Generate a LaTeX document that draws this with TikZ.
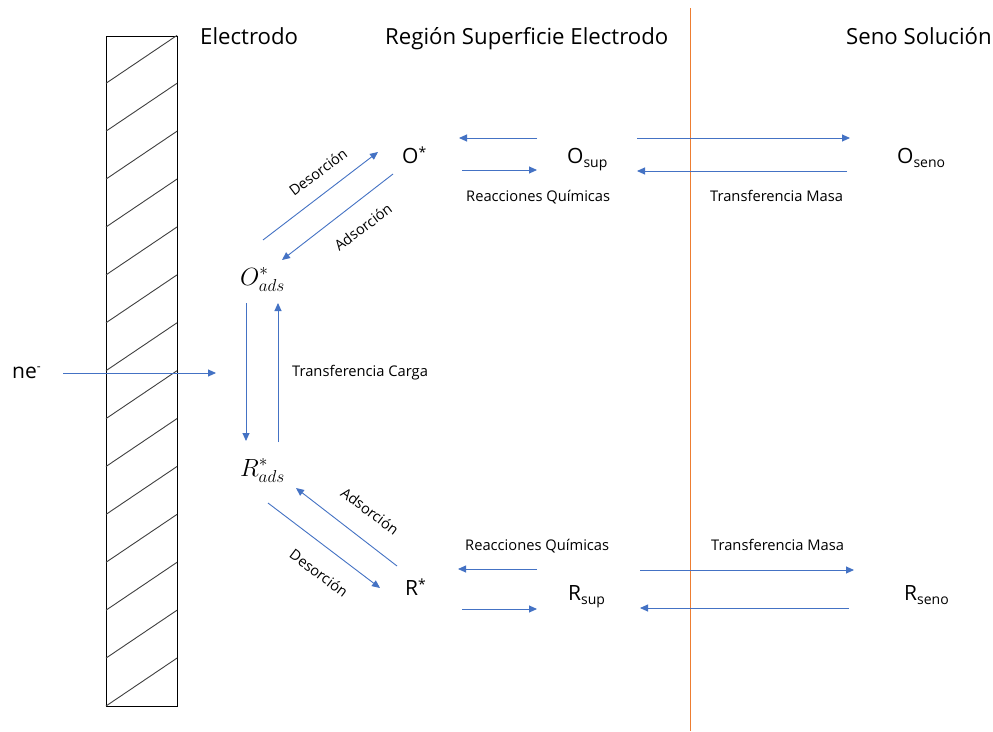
\documentclass[tikz,border=0pt]{standalone}
\usepackage{fontspec}
\setmainfont{Open Sans}
\usetikzlibrary{arrows.meta}
\DeclareMathSizes{25}{25}{19}{15}

\definecolor{flowblue}{HTML}{4472C4}
\definecolor{boundary}{HTML}{ED7D31}

% subscript / superscript pieces for the species labels
\newcommand\sbs[1]{\raisebox{-4.5pt}{\fontsize{14}{14}\selectfont #1}}
\newcommand\sps{\raisebox{6pt}{\fontsize{14}{14}\selectfont *}}

\tikzset{
  flow/.style={draw=flowblue, line width=0.9pt, -{Triangle[length=8pt,width=7pt]}},
  hatch/.style={draw=black!75, line width=0.9pt},
  title/.style={font=\fontsize{22.2}{26}\selectfont, anchor=base west, inner sep=0pt},
  species/.style={font=\fontsize{21}{25}\selectfont, anchor=base west, inner sep=0pt},
  mathsp/.style={font=\fontsize{25}{27}\selectfont, anchor=base west, inner sep=0pt},
  proc/.style={font=\fontsize{14.7}{17}\selectfont, anchor=base west, inner sep=0pt},
  slant/.style={font=\fontsize{14.5}{17}\selectfont, inner sep=0pt},
}

\begin{document}
\begin{tikzpicture}[x=1pt,y=-1pt]
  \fill[white] (0,0) rectangle (993,731);
  \useasboundingbox (0,0) rectangle (993,731);

  % electrode block with hatching
  \draw[line width=0.9pt] (106,36) rectangle (177,706);
  \foreach \k in {0,...,13}
    \draw[hatch] (106,{706-47.9*(13-\k)}) -- (177,{706-47.9*(14-\k)});

  % boundary between surface region and bulk solution
  \draw[boundary, line width=1pt] (690,8) -- (690,731);

  % region titles
  \node[title] (telec) at (200,44) {Electrodo};
  \node[title] (tsurf) at (385,44) {Región Superficie Electrodo};
  \node[title] (tbulk) at (846,44) {Seno Solución};

  % species
  \node[species] (ostar) at (402,163) {O\sps};
  \node[species] (osup)  at (567,163) {O\sbs{sup}};
  \node[species] (oseno) at (897,163) {O\sbs{seno}};
  \node[mathsp]  (oads)  at (240,285) {$O^{*}_{ads}$};
  \node[mathsp]  (rads)  at (240,476) {$R^{*}_{ads}$};
  \node[species] (rstar) at (405,595) {R\sps};
  \node[species] (rsup)  at (568,600) {R\sbs{sup}};
  \node[species] (rseno) at (904,600) {R\sbs{seno}};
  \node[species] (ne)    at (12,378)  {ne\raisebox{8pt}{\fontsize{12}{12}\selectfont -}};

  % process labels
  \node[proc] (rqtop) at (466,201) {Reacciones Químicas};
  \node[proc] (tmtop) at (710,201) {Transferencia Masa};
  \node[proc] (rqbot) at (465,550) {Reacciones Químicas};
  \node[proc] (tmbot) at (711,550) {Transferencia Masa};
  \node[proc] (tcarga) at (292,376) {Transferencia Carga};
  \node[slant, rotate=37]  (desA) at (318,172) {Desorción};
  \node[slant, rotate=37]  (adsA) at (363,227) {Adsorción};
  \node[slant, rotate=-37] (adsB) at (370,511) {Adsorción};
  \node[slant, rotate=-37] (desB) at (319,573) {Desorción};

  % arrow end points
  \coordinate (neS) at (63,373);    \coordinate (neE) at (216,373);
  \coordinate (d1s) at (263,240);   \coordinate (d1e) at (378,152);
  \coordinate (a1s) at (393,174);   \coordinate (a1e) at (282,260);
  \coordinate (cds) at (246,303);   \coordinate (cde) at (246,441);
  \coordinate (cus) at (278,442);   \coordinate (cue) at (278,303);
  \coordinate (a2s) at (397,566);   \coordinate (a2e) at (296,488);
  \coordinate (d2s) at (268,503);   \coordinate (d2e) at (380,588);
  \coordinate (q1s) at (537,138);   \coordinate (q1e) at (459,138);
  \coordinate (q2s) at (462,170);   \coordinate (q2e) at (537,170);
  \coordinate (m1s) at (637,138);   \coordinate (m1e) at (850,138);
  \coordinate (m2s) at (847,171);   \coordinate (m2e) at (637,171);
  \coordinate (q3s) at (537,569);   \coordinate (q3e) at (458,569);
  \coordinate (q4s) at (462,609);   \coordinate (q4e) at (537,609);
  \coordinate (m3s) at (640,570);   \coordinate (m3e) at (854,570);
  \coordinate (m4s) at (849,608);   \coordinate (m4e) at (640,608);

  % electron supply
  \draw[flow] (neS) -- (neE);
  % adsorption / desorption of O
  \draw[flow] (d1s) -- (d1e);
  \draw[flow] (a1s) -- (a1e);
  % charge transfer
  \draw[flow] (cds) -- (cde);
  \draw[flow] (cus) -- (cue);
  % adsorption / desorption of R
  \draw[flow] (a2s) -- (a2e);
  \draw[flow] (d2s) -- (d2e);
  % chemical reactions and mass transfer, O side
  \draw[flow] (q1s) -- (q1e);
  \draw[flow] (q2s) -- (q2e);
  \draw[flow] (m1s) -- (m1e);
  \draw[flow] (m2s) -- (m2e);
  % chemical reactions and mass transfer, R side
  \draw[flow] (q3s) -- (q3e);
  \draw[flow] (q4s) -- (q4e);
  \draw[flow] (m3s) -- (m3e);
  \draw[flow] (m4s) -- (m4e);
\end{tikzpicture}
\end{document}
